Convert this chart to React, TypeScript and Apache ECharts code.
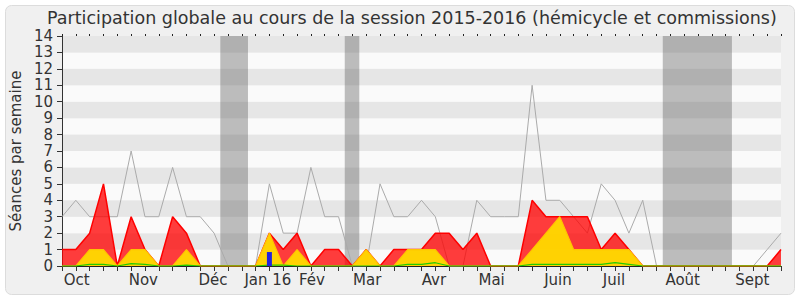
import React, { useEffect, useRef } from "react";
import * as echarts from "echarts";

const weeks: number[] = Array.from({ length: 53 }, (_, i) => i);

const totalSessions: number[] = [
  3, 4, 3, 3, 3, 7, 3, 3, 6, 3, 3, 2, 0, 0, 0,
  5, 2, 2, 6, 3, 3, 0, 0, 5, 3, 3, 4, 3, 0, 0,
  4, 3, 3, 3, 11, 4, 4, 3, 2, 5, 4, 2, 4, 0,
  0, 0, 0, 0, 0, 0, 0, 1, 2,
];

const presences: number[] = [
  1, 1, 2, 5, 0, 3, 1, 0, 3, 2, 0, 0, 0, 0, 0,
  2, 1, 2, 0, 1, 1, 0, 1, 0, 1, 1, 1, 2, 2, 1,
  2, 0, 0, 0, 4, 3, 3, 3, 3, 1, 2, 1, 0, 0,
  0, 0, 0, 0, 0, 0, 0, 0, 1,
];

const commission: number[] = [
  0, 0, 1, 1, 0, 1, 1, 0, 0, 1, 0, 0, 0, 0, 0,
  2, 0, 1, 0, 0, 0, 0, 1, 0, 0, 1, 1, 1, 0, 0,
  0, 0, 0, 0, 1, 2, 3, 1, 1, 1, 1, 1, 0, 0,
  0, 0, 0, 0, 0, 0, 0, 0, 0,
];

const interventions: number[] = [
  0, 0, 0.1, 0.1, 0, 0.15, 0.1, 0, 0, 0.05, 0, 0, 0, 0, 0,
  0.05, 0.05, 0, 0, 0, 0, 0, 0, 0, 0, 0.1, 0.1, 0.2, 0, 0,
  0, 0, 0, 0, 0.1, 0.1, 0.1, 0.1, 0.1, 0.1, 0.2, 0.1, 0, 0,
  0, 0, 0, 0, 0, 0, 0, 0, 0,
];

const questions: [number, number][] = [[15, 0.85]];

const vacations: [number, number][] = [
  [11.45, 13.45],
  [20.45, 21.5],
  [43.45, 48.45],
];

const monthLabels: string[] = [
  "Oct", "Nov", "Déc", "Jan 16", "Fév", "Mar", "Avr", "Mai", "Juin", "Juil", "Août", "Sept",
];
const monthPositions: number[] = [
  1.06, 5.88, 10.92, 14.89, 18.08, 22.07, 26.9, 31.07, 35.87, 39.92, 44.89, 49.93,
];

const yTicks: number[] = Array.from({ length: 15 }, (_, i) => i);

const FONT = "DejaVu Sans";

export default function App() {
  const ref = useRef<HTMLDivElement>(null);

  useEffect(() => {
    if (!ref.current) return;
    const chart = echarts.init(ref.current, undefined, { renderer: "svg" });
    const pair = (arr: number[]) => arr.map((v, i) => [weeks[i], v]);

    chart.setOption({
      animation: false,
      textStyle: { fontFamily: FONT },
      title: {
        text: "Participation globale au cours de la session 2015-2016 (hémicycle et commissions)",
        left: 47,
        top: 6,
        padding: 0,
        textStyle: { fontFamily: FONT, fontSize: 17.5, fontWeight: "normal", color: "#333", lineHeight: 24 },
      },
      graphic: [
        {
          type: "rect",
          z: -10,
          shape: { x: 5.5, y: 5.5, width: 789, height: 289, r: 6 },
          style: { fill: "#f0f0f0", stroke: "#dcdcdc", lineWidth: 1 },
          silent: true,
        },
      ],
      grid: { left: 62, right: 19, top: 36, bottom: 34, containLabel: false },
      xAxis: [
        {
          type: "value",
          min: 0,
          max: 52,
          position: "bottom",
          axisLine: { show: true, lineStyle: { color: "#222", width: 1 } },
          axisTick: { show: true, length: 5, customValues: weeks, lineStyle: { color: "#333" } },
          axisLabel: {
            show: true,
            customValues: monthPositions,
            formatter: (v: number) => {
              const idx = monthPositions.findIndex((p) => Math.abs(p - v) < 1e-6);
              return idx >= 0 ? monthLabels[idx] : "";
            },
            fontFamily: FONT,
            fontSize: 15,
            color: "#333",
            margin: 6,
          },
          splitLine: { show: false },
        },
        {
          type: "value",
          min: 0,
          max: 52,
          position: "top",
          axisLine: { show: false },
          axisTick: { show: true, length: 2, customValues: weeks, lineStyle: { color: "#222" } },
          axisLabel: { show: false },
          splitLine: { show: false },
        },
      ],
      yAxis: {
        type: "value",
        min: 0,
        max: 14,
        interval: 1,
        name: "Séances par semaine",
        nameLocation: "middle",
        nameGap: 38,
        nameTextStyle: { fontFamily: FONT, fontSize: 15, color: "#333" },
        axisLine: { show: true, lineStyle: { color: "#333" } },
        axisTick: { show: true, length: 5, lineStyle: { color: "#333" } },
        axisLabel: {
          fontFamily: FONT,
          fontSize: 15,
          color: "#333",
          margin: 9,
          customValues: yTicks,
        },
        splitLine: { show: false },
        splitArea: { show: true, areaStyle: { color: ["#fafafa", "#e6e6e6"] } },
      },
      series: [
        {
          name: "vacances",
          type: "line",
          data: [],
          z: 1,
          silent: true,
          markArea: {
            silent: true,
            itemStyle: { color: "rgba(95,95,95,0.4)" },
            data: vacations.map(([a, b]) => [{ xAxis: a }, { xAxis: b }]),
          },
        },
        {
          name: "Séances",
          type: "line",
          data: pair(totalSessions),
          z: 2,
          symbol: "none",
          lineStyle: { color: "#aaaaaa", width: 1 },
        },
        {
          name: "Présences",
          type: "line",
          data: pair(presences),
          z: 3,
          symbol: "none",
          lineStyle: { color: "#ff0000", width: 1.5 },
          areaStyle: { color: "rgba(255,0,0,0.76)", opacity: 1 },
        },
        {
          name: "Commission",
          type: "line",
          data: pair(commission),
          z: 4,
          symbol: "none",
          lineStyle: { color: "#ffc400", width: 1.2 },
          areaStyle: { color: "#ffd700", opacity: 0.97 },
        },
        {
          name: "Interventions",
          type: "line",
          data: pair(interventions),
          z: 5,
          symbol: "none",
          lineStyle: { color: "#22cc00", width: 1.2 },
        },
        {
          name: "Questions",
          type: "bar",
          data: questions,
          z: 6,
          barWidth: 5,
          itemStyle: { color: "#2222dd" },
        },
      ],
    });

    return () => chart.dispose();
  }, []);

  return (
    <div
      ref={ref}
      style={{ position: "fixed", left: 0, top: 0, width: 800, height: 300, background: "#ffffff" }}
    />
  );
}
